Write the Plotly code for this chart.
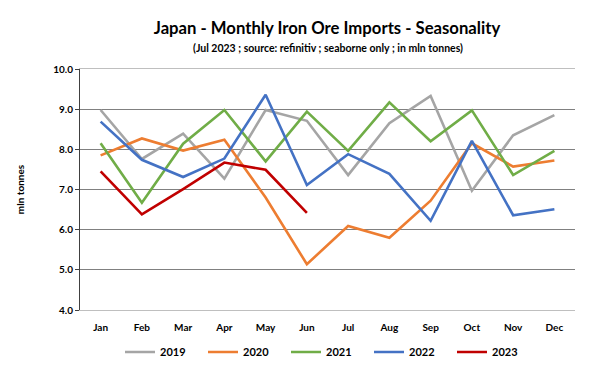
import plotly.graph_objects as go

months = ["Jan", "Feb", "Mar", "Apr", "May", "Jun", "Jul", "Aug", "Sep", "Oct", "Nov", "Dec"]
y2019 = [8.98, 7.76, 8.39, 7.27, 8.98, 8.71, 7.36, 8.65, 9.33, 6.97, 8.35, 8.85]
y2020 = [7.85, 8.27, 7.97, 8.24, 6.80, 5.14, 6.09, 5.80, 6.72, 8.15, 7.57, 7.72]
y2021 = [8.15, 6.67, 8.14, 8.98, 7.70, 8.94, 7.96, 9.17, 8.20, 8.97, 7.36, 7.96]
y2022 = [8.69, 7.74, 7.31, 7.77, 9.36, 7.11, 7.88, 7.39, 6.22, 8.21, 6.36, 6.51]
y2023 = [7.45, 6.38, 7.01, 7.67, 7.49, 6.42]

series = [
    ("2019", y2019, "#a5a5a5"),
    ("2020", y2020, "#ed7d31"),
    ("2021", y2021, "#70ad47"),
    ("2022", y2022, "#4472c4"),
    ("2023", y2023, "#c00000"),
]

FONT = "Lato"
W, H = 592, 364  # page body adds an 8px offset
fig = go.Figure()
for name, vals, col in series:
    fig.add_trace(go.Scatter(
        x=months[:len(vals)], y=vals, name="<b>" + name + "</b>", mode="lines",
        line=dict(color=col, width=2.6),
    ))

fig.update_layout(
    width=W, height=H,
    margin=dict(l=72, r=25, t=61, b=62, autoexpand=False),
    paper_bgcolor="white", plot_bgcolor="white",
    font=dict(family=FONT, color="black", size=10),
    title=dict(text="<b>Japan - Monthly Iron Ore Imports - Seasonality</b>",
               x=319 / W, xanchor="center", y=1 - 20 / H, yanchor="middle",
               font=dict(size=16.7, family=FONT, color="black")),
    showlegend=True,
    legend=dict(orientation="h", x=0.5, xanchor="center", y=(310 - 352) / 241, yanchor="middle",
                entrywidth=38, entrywidthmode="pixels",
                font=dict(size=11, family=FONT, color="black"),
                itemwidth=30, traceorder="normal"),
    annotations=[dict(text="<b>(Jul 2023 ; source: refinitiv ; seaborne only ; in mln tonnes)</b>",
                      xref="paper", yref="paper", x=0.5, y=(310 - 48) / 241,
                      xanchor="center", yanchor="middle", showarrow=False,
                      font=dict(size=10.5, family=FONT, color="black"))],
)
fig.update_xaxes(
    categoryorder="array", categoryarray=months, range=[-0.5, 11.5],
    showline=True, linecolor="#bfbfbf", linewidth=1, mirror=True,
    showgrid=False, ticks="", tickfont=dict(size=10, family=FONT),
    ticklabelstandoff=8, tickprefix="<b>", ticksuffix="</b>",
)
fig.update_yaxes(
    range=[4, 10], dtick=1, tickformat=".1f",
    showline=True, linecolor="#404040", linewidth=1,
    showgrid=True, gridcolor="#808080", gridwidth=1,
    ticks="outside", ticklen=4, tickcolor="#404040",
    tickfont=dict(size=10, family=FONT), tickprefix="<b>", ticksuffix="</b>",
    title=dict(text="<b>mln tonnes</b>", font=dict(size=10, family=FONT), standoff=26),
    zeroline=False,
)

fig.write_html("out.html")
